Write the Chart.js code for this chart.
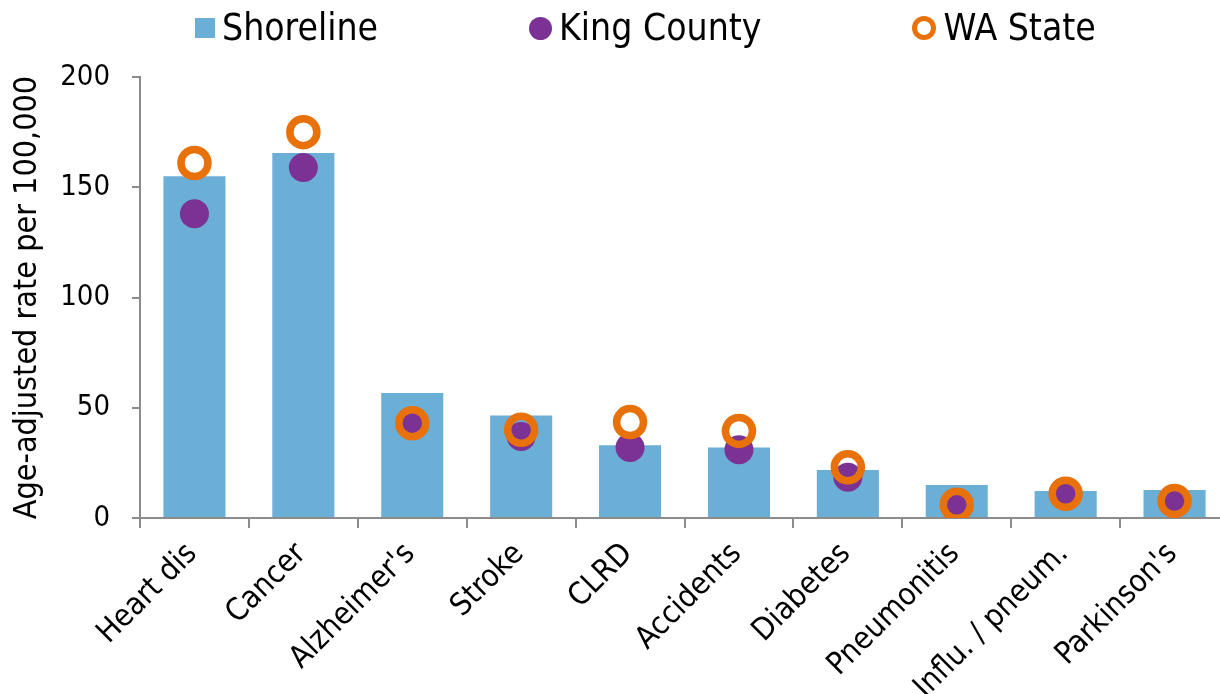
<!DOCTYPE html>
<html>
<head>
<meta charset="utf-8">
<script src="https://cdn.jsdelivr.net/npm/chart.js@4.4.1/dist/chart.umd.min.js"></script>
<style>
  html, body { margin: 0; padding: 0; background: #fff; overflow: hidden; }
  #page { width: 1220px; height: 694px; position: relative; overflow: hidden; }
  /* the last category runs a little past the right edge, as in the original */
  #wrap { width: 1250px; height: 694px; position: absolute; left: 0; top: 0; }
  #legend { position: absolute; left: 195px; top: 10px; display: flex; gap: 151px;
            font-family: 'DejaVu Sans Condensed', 'DejaVu Sans', sans-serif; font-size: 37px;
            line-height: 36px; color: #000; }
  .item { display: flex; align-items: center; gap: 7px; white-space: nowrap; }
  .sw { flex: none; box-sizing: border-box; }
</style>
</head>
<body>
<div id="page">
  <div id="wrap"><canvas id="chart"></canvas></div>
  <div id="legend"></div>
</div>
<script>
// causes of death, age-adjusted rate per 100,000
const causes = ['Heart dis', 'Cancer', "Alzheimer's", 'Stroke', 'CLRD', 'Accidents',
                'Diabetes', 'Pneumonitis', 'Influ. / pneum.', "Parkinson's"];
const shoreline = [155, 165.5, 56.7, 46.5, 33, 32, 21.8, 15, 12.2, 12.7];
const kingCounty = [138, 159, 43, 37, 32, 31, 18.5, 6, 11, 7.7];
const waState = [161, 175, 43, 40, 43.5, 39.5, 23, 6, 11, 7.7];
const yTicks = [0, 50, 100, 150, 200];

const FONT = "'DejaVu Sans Condensed', 'DejaVu Sans', sans-serif";
const AXIS_GRAY = '#8c8c8c';
const BLUE = '#6baed6';
const PURPLE = '#7b3294';
const ORANGE = '#e8710a';

// html legend, order = dataset order
function makeLegend() {
    const legend = document.getElementById('legend');
    const items = [
        { text: 'Shoreline', css: `width:20px;height:20px;background:${BLUE};` },
        { text: 'King County', css: `width:23px;height:23px;border-radius:50%;background:${PURPLE};` },
        { text: 'WA State', css: `width:24px;height:24px;border-radius:50%;border:5px solid ${ORANGE};` }
    ];
    for (const it of items) {
        const div = document.createElement('div');
        div.className = 'item';
        const sw = document.createElement('span');
        sw.className = 'sw';
        sw.style.cssText = it.css;
        const label = document.createElement('span');
        label.innerText = it.text;
        div.appendChild(sw);
        div.appendChild(label);
        legend.appendChild(div);
    }
}
makeLegend();

const ctx = document.getElementById('chart');
const chart = new Chart(ctx, {
    type: 'bar',
    data: {
        labels: causes,
        datasets: [
            {
                label: 'Shoreline',
                data: shoreline,
                backgroundColor: BLUE,
                borderWidth: 0,
                barPercentage: 0.57,
                categoryPercentage: 1.0,
                order: 3
            },
            {
                type: 'line',
                label: 'King County',
                data: kingCounty,
                showLine: false,
                pointStyle: 'circle',
                pointRadius: 14.5,
                pointHoverRadius: 14.5,
                pointBackgroundColor: PURPLE,
                pointBorderWidth: 0,
                borderColor: PURPLE,
                order: 2
            },
            {
                type: 'line',
                label: 'WA State',
                data: waState,
                showLine: false,
                pointStyle: 'circle',
                pointRadius: 13.5,
                pointHoverRadius: 13.5,
                pointBackgroundColor: 'rgba(0,0,0,0)',
                pointBorderColor: ORANGE,
                pointBorderWidth: 7.5,
                borderColor: ORANGE,
                order: 1
            }
        ]
    },
    options: {
        responsive: true,
        maintainAspectRatio: false,
        animation: false,
        layout: { padding: { top: 77, right: 0, left: 8, bottom: 0 } },
        plugins: {
            tooltip: { enabled: false },
            legend: { display: false }
        },
        scales: {
            x: {
                offset: true,
                grid: {
                    offset: true,
                    drawOnChartArea: false,
                    drawTicks: true,
                    tickLength: 10,
                    color: AXIS_GRAY,
                    lineWidth: 2
                },
                border: { color: AXIS_GRAY, width: 2 },
                ticks: {
                    minRotation: 45,
                    maxRotation: 45,
                    color: '#000',
                    padding: 8,
                    labelOffset: -2,
                    font: { family: FONT, size: 31 }
                },
                afterFit: function(scale) { scale.height = 176; }
            },
            y: {
                min: 0,
                max: 200,
                afterBuildTicks: function(scale) {
                    scale.ticks = yTicks.map(v => ({ value: v }));
                },
                grid: {
                    drawOnChartArea: false,
                    drawTicks: true,
                    tickLength: 8,
                    color: AXIS_GRAY,
                    lineWidth: 2
                },
                border: { color: AXIS_GRAY, width: 2 },
                ticks: {
                    color: '#000',
                    padding: 22,
                    font: { family: FONT, size: 29 }
                },
                title: {
                    display: true,
                    text: 'Age-adjusted rate per 100,000',
                    color: '#000',
                    padding: { top: 0, bottom: 4 },
                    font: { family: FONT, size: 32 }
                },
                afterFit: function(scale) { scale.width = 132; }
            }
        }
    }
});
</script>
</body>
</html>
